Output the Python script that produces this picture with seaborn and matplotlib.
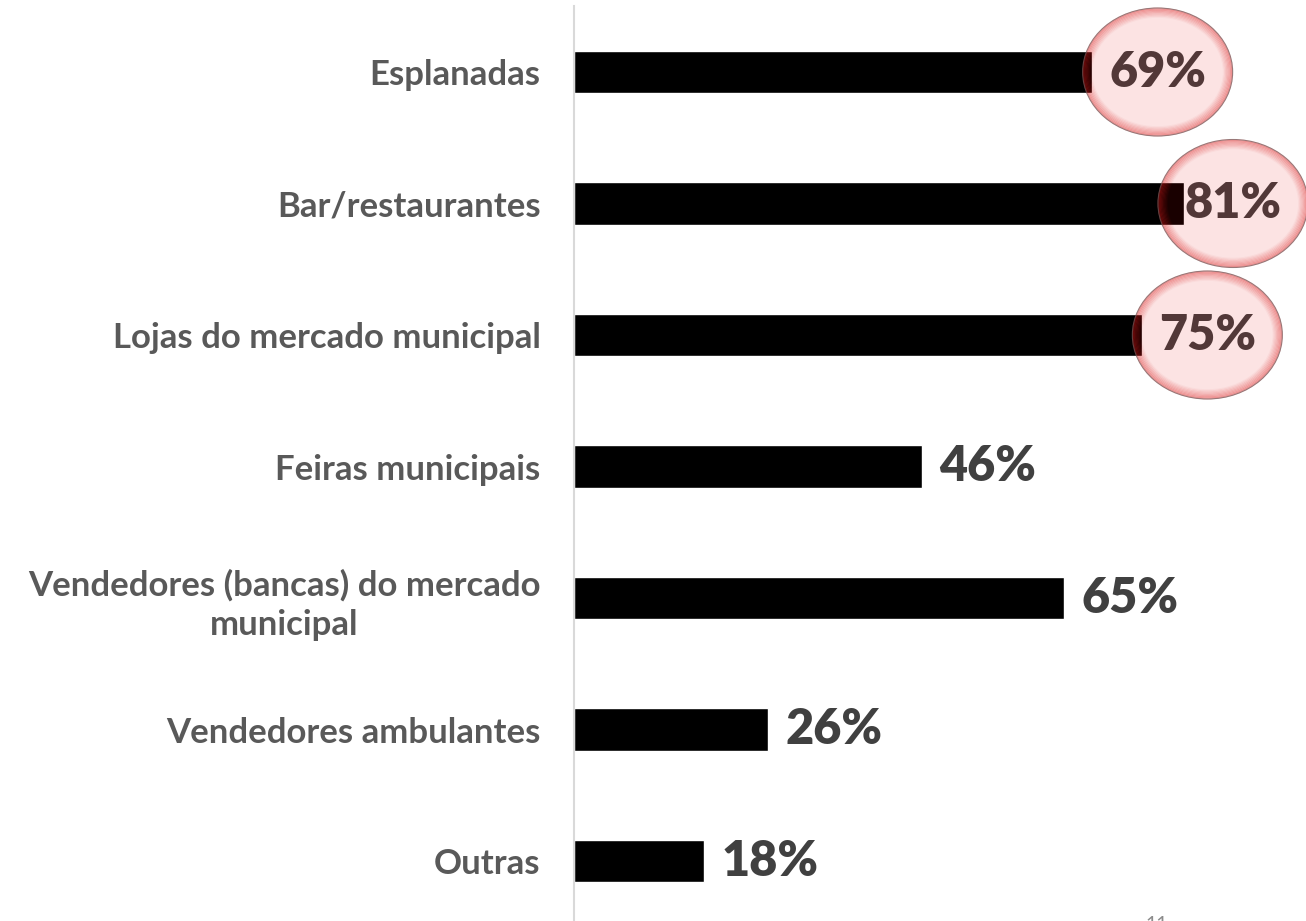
import matplotlib
matplotlib.use('Agg')
import matplotlib.pyplot as plt
import seaborn as sns
import pandas as pd
from matplotlib.patches import Ellipse

# ---- data ----
categories = [
    "Esplanadas",
    "Bar/restaurantes",
    "Lojas do mercado municipal",
    "Feiras municipais",
    "Vendedores (bancas) do mercado\nmunicipal",
    "Vendedores ambulantes",
    "Outras",
]
values = [68.8, 81.0, 75.4, 46.2, 65.1, 25.8, 17.3]
value_labels = ["69%", "81%", "75%", "46%", "65%", "26%", "18%"]
highlighted = ["Esplanadas", "Bar/restaurantes", "Lojas do mercado municipal"]

sns.set_style('white')
plt.rcParams['font.family'] = ['Lato', 'DejaVu Sans']

df = pd.DataFrame({'cat': categories, 'val': values})

W, H = 1306, 921
fig = plt.figure(figsize=(W / 100, H / 100), dpi=100)
ax = fig.add_axes([574 / W, -5.75 / H, 732 / W, 920.5 / H])

sns.barplot(data=df, x='val', y='cat', color='black', width=0.32,
            saturation=1, ax=ax)

XMAX = 97.2
ax.set_xlim(0, XMAX)
ax.set_xlabel('')
ax.set_ylabel('')
ax.set_xticks([])
ax.tick_params(axis='y', length=0, pad=24, labelsize=25, labelcolor='#595959')
for lbl in ax.get_yticklabels():
    lbl.set_fontweight('bold')
    lbl.set_multialignment('center')
    lbl.set_linespacing(1.3)

for s in ['top', 'right', 'bottom']:
    ax.spines[s].set_visible(False)
ax.spines['left'].set_color('#d9d9d9')
ax.spines['left'].set_linewidth(1.5)

px_x = (W - 574) / XMAX      # pixels per data unit in x
px_y = 920.5 / 7.0           # pixels per category in y

for i, (cat, v, t) in enumerate(zip(categories, values, value_labels)):
    x = min(v + 8.7, XMAX - 9.7)
    ax.text(x, i, t, ha='center', va='center', fontsize=35,
            fontweight='heavy', color='#404040', zorder=3)
    if cat in highlighted:
        ew, eh = 149, 127
        ax.add_patch(Ellipse((x, i), ew / px_x, eh / px_y,
                             facecolor=(0.9, 0.0, 0.0, 0.11),
                             edgecolor='none', zorder=4))
        for k in range(8):
            d = k * 1.2
            ax.add_patch(Ellipse((x, i), (ew - 2 * d) / px_x, (eh - 2 * d) / px_y,
                                 facecolor='none',
                                 edgecolor=(0.85, 0.1, 0.1, 0.30 * (1 - k / 8)),
                                 linewidth=1.3, zorder=5))
        ax.add_patch(Ellipse((x, i), (ew + 1) / px_x, (eh + 1) / px_y,
                             facecolor='none', edgecolor=(0.45, 0.35, 0.35, 0.7),
                             linewidth=0.8, zorder=6))

fig.text(1157 / W, -0.004, '11', ha='center', va='center', fontsize=14,
         color='#8c8c8c')

fig.savefig('out.png', dpi=100)
